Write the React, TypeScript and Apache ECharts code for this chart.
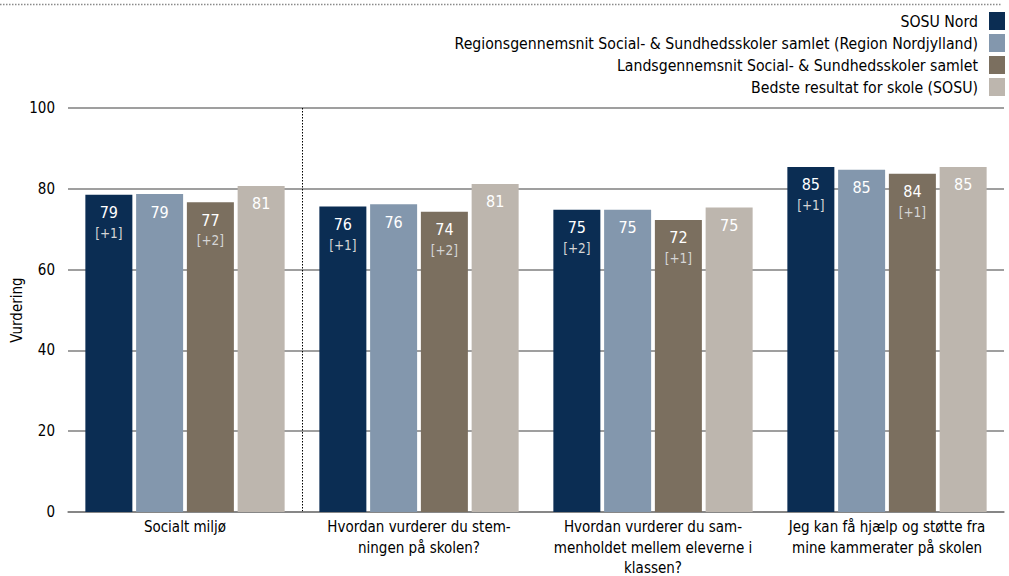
import React, { useEffect, useRef } from "react";
import * as echarts from "echarts";

const categories = [
  "Socialt miljø",
  "Hvordan vurderer du stem-\nningen på skolen?",
  "Hvordan vurderer du sam-\nmenholdet mellem eleverne i\nklassen?",
  "Jeg kan få hjælp og støtte fra\nmine kammerater på skolen",
];
const seriesNames = [
  "SOSU Nord",
  "Regionsgennemsnit Social- & Sundhedsskoler samlet (Region Nordjylland)",
  "Landsgennemsnit Social- & Sundhedsskoler samlet",
  "Bedste resultat for skole (SOSU)",
];
const sosuNord = [78.5, 75.6, 74.8, 85.4];
const sosuNordDelta = ["+1", "+1", "+2", "+1"];
const region = [78.7, 76.2, 74.8, 84.7];
const lands = [76.7, 74.3, 72.3, 83.7];
const landsDelta = ["+2", "+2", "+1", "+1"];
const best = [80.7, 81.2, 75.4, 85.4];
const yTicks = [0, 20, 40, 60, 80, 100];

const colors = ["#0b2d53", "#8397ad", "#7b6f5f", "#bdb6ae"];
const FONT = "'DejaVu Sans Condensed', 'Liberation Sans Narrow', 'DejaVu Sans', sans-serif";

export default function App() {
  const ref = useRef<HTMLDivElement>(null);
  useEffect(() => {
    document.body.style.margin = "0";
    const chart = echarts.init(ref.current!, undefined, { renderer: "svg" });
    const mk = (name: string, data: number[], color: string, deltas?: string[]) => ({
      name,
      type: "bar",
      data,
      barWidth: 47,
      barGap: "8%",
      itemStyle: { color },
      label: {
        show: true,
        position: "insideTop",
        distance: 8,
        formatter: (p: any) => {
          const v = `{v|${Math.round(p.value)}}`;
          return deltas ? `${v}\n{d|[${deltas[p.dataIndex]}]}` : v;
        },
        rich: {
          v: { fontSize: 16, lineHeight: 20, color: "#ffffff", fontFamily: FONT },
          d: { fontSize: 13.5, lineHeight: 20, color: "#d6d6d6", fontFamily: FONT },
        },
      },
    });
    chart.setOption({
      animation: false,
      textStyle: { fontFamily: FONT },
      grid: { left: 68, right: 5, top: 108, bottom: 64, containLabel: false, outerBoundsMode: "none" },
      legend: {
        orient: "vertical",
        align: "right",
        right: 0,
        top: 7,
        padding: [5, 4, 5, 5],
        itemWidth: 16,
        itemHeight: 18,
        itemGap: 4,
        icon: "rect",
        data: seriesNames,
        textStyle: { fontSize: 15.7, color: "#000", fontFamily: FONT, padding: [0, 6, 0, 0] },
      },
      xAxis: {
        type: "category",
        data: categories,
        axisTick: { show: false },
        axisLine: { lineStyle: { color: "#7f7f7f", width: 1.5 } },
        axisLabel: { color: "#000", fontSize: 15, lineHeight: 20.5, margin: 5, interval: 0, fontFamily: FONT },
      },
      yAxis: {
        type: "value",
        min: yTicks[0],
        max: yTicks[yTicks.length - 1],
        interval: 20,
        name: "Vurdering",
        nameLocation: "middle",
        nameGap: 44,
        nameMoveOverlap: false,
        nameRotate: 90,
        nameTextStyle: { color: "#000", fontSize: 15, fontFamily: FONT },
        axisLine: { show: false },
        axisTick: { show: false },
        axisLabel: { color: "#000", fontSize: 15, margin: 13, fontFamily: FONT },
        splitLine: { lineStyle: { color: "#7f7f7f", width: 1.5 } },
      },
      series: [
        mk(seriesNames[0], sosuNord, colors[0], sosuNordDelta),
        mk(seriesNames[1], region, colors[1]),
        mk(seriesNames[2], lands, colors[2], landsDelta),
        mk(seriesNames[3], best, colors[3]),
      ],
    });
    // separator between first and second category, from the axis scale
    const c0 = chart.convertToPixel({ xAxisIndex: 0 }, categories[0]) as number;
    const c1 = chart.convertToPixel({ xAxisIndex: 0 }, categories[1]) as number;
    const sx = Math.round((c0 + c1) / 2) + 0.5;
    const yTop = chart.convertToPixel({ yAxisIndex: 0 }, yTicks[yTicks.length - 1]) as number;
    const yBot = chart.convertToPixel({ yAxisIndex: 0 }, yTicks[0]) as number;
    chart.setOption({
      graphic: [
        {
          type: "line",
          shape: { x1: 0, y1: 4.5, x2: 1002, y2: 4.5 },
          style: { stroke: "#8a8a8a", lineWidth: 1.5, lineDash: [1.5, 1.5] },
        },
        {
          type: "line",
          shape: { x1: sx, y1: yTop, x2: sx, y2: yBot },
          style: { stroke: "#000", lineWidth: 1, lineDash: [1.5, 1.5] },
        },
      ],
    });
    return () => chart.dispose();
  }, []);
  return <div ref={ref} style={{ width: 1009, height: 576 }} />;
}
